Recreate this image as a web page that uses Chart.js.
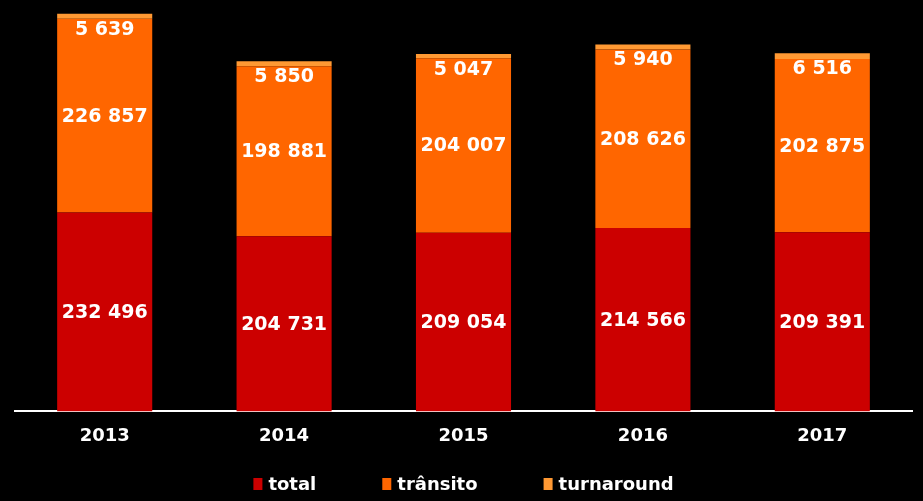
<!DOCTYPE html>
<html>
<head>
<meta charset="utf-8">
<script src="https://cdn.jsdelivr.net/npm/chart.js@4/dist/chart.umd.min.js"></script>
<style>
html,body{margin:0;padding:0;background:#000;}
#wrap{width:923px;height:501px;position:relative;}
</style>
</head>
<body>
<div id="wrap"><canvas id="c" width="923" height="501"></canvas></div>
<script>
const categories = ['2013','2014','2015','2016','2017'];
const totalValues = [232496, 204731, 209054, 214566, 209391];
const transitoValues = [226857, 198881, 204007, 208626, 202875];
const turnaroundValues = [5639, 5850, 5047, 5940, 6516];
const seriesNames = ['total','trânsito','turnaround'];
const colors = ['#CC0000','#FF6600','#FF9933'];

function fmt(v){ return String(v).replace(/\B(?=(\d{3})+(?!\d))/g, ' '); }

const FONT = 'DejaVu Sans';

const labelPlugin = {
  id: 'segLabels',
  afterDatasetsDraw(chart){
    const ctx = chart.ctx;
    ctx.save();
    ctx.fillStyle = '#FFFFFF';
    ctx.font = 'bold 19px "' + FONT + '"';
    ctx.textAlign = 'center';
    ctx.textBaseline = 'middle';
    chart.data.datasets.forEach((ds, di) => {
      const meta = chart.getDatasetMeta(di);
      meta.data.forEach((bar, i) => {
        const v = ds.data[i];
        let y;
        if (di === 2) {
          y = bar.y + 16;
        } else {
          y = (bar.y + bar.base) / 2 + 1;
        }
        ctx.fillText(fmt(v), bar.x, y);
      });
    });
    ctx.restore();
  }
};

const legendPlugin = {
  id: 'customLegend',
  afterDraw(chart){
    const ctx = chart.ctx;
    ctx.save();
    ctx.font = 'bold 18px "' + FONT + '"';
    ctx.textBaseline = 'middle';
    ctx.textAlign = 'left';
    const boxW = 9, boxH = 12, boxGap = 6, itemGap = 66;
    const items = chart.data.datasets.map(ds => ({
      text: ds.label, color: ds.backgroundColor, w: ctx.measureText(ds.label).width
    }));
    let total = 0;
    items.forEach((it, i) => { total += boxW + boxGap + it.w + (i ? itemGap : 0); });
    const cx = (chart.chartArea.left + chart.chartArea.right) / 2;
    let x = cx - total / 2;
    const y = 484;
    items.forEach(it => {
      ctx.fillStyle = it.color;
      ctx.fillRect(x, y - boxH / 2, boxW, boxH);
      ctx.fillStyle = '#FFFFFF';
      ctx.fillText(it.text, x + boxW + boxGap, y + 1);
      x += boxW + boxGap + it.w + itemGap;
    });
    ctx.restore();
  }
};

new Chart(document.getElementById('c'), {
  type: 'bar',
  data: {
    labels: categories,
    datasets: [
      { label: seriesNames[0], data: totalValues, backgroundColor: colors[0] },
      { label: seriesNames[1], data: transitoValues, backgroundColor: colors[1] },
      { label: seriesNames[2], data: turnaroundValues, backgroundColor: colors[2] }
    ]
  },
  options: {
    responsive: false,
    animation: false,
    layout: { padding: { left: 15, right: 11, top: 1, bottom: 48 } },
    datasets: { bar: { barPercentage: 0.53, categoryPercentage: 1.0 } },
    scales: {
      x: {
        stacked: true,
        grid: { display: false },
        border: { display: true, color: '#FFFFFF', width: 2 },
        ticks: { color: '#FFFFFF', font: { family: FONT, size: 18, weight: 'bold' }, padding: 6 }
      },
      y: {
        stacked: true,
        display: false,
        min: 0,
        max: 480000
      }
    },
    plugins: {
      legend: { display: false },
      tooltip: { enabled: false }
    }
  },
  plugins: [labelPlugin, legendPlugin]
});
</script>
</body>
</html>
